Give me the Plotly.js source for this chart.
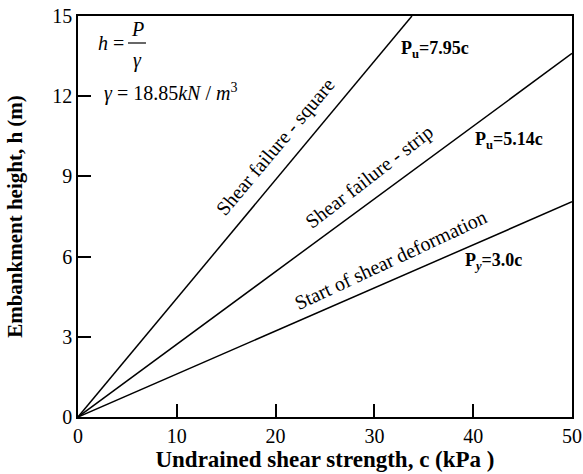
<!DOCTYPE html>
<html>
<head>
<meta charset="utf-8">
<script src="https://cdn.plot.ly/plotly-3.0.1.min.js"></script>
<style>html,body{margin:0;padding:0;background:#fff;}#chart{width:583px;height:474px;}</style>
</head>
<body>
<div id="chart"></div>
<script>
// Line end points (c in kPa, h in m)
const squareC = [0, 33.8];
const squareH = [0, 15];
const stripC = [0, 50];
const stripH = [0, 13.6];
const startC = [0, 50];
const startH = [0, 8.05];
const xTicks = [0, 10, 20, 30, 40, 50];
const yTicks = [0, 3, 6, 9, 12, 15];

const serif = 'Liberation Serif';
const lineStyle = {color: '#000', width: 1.5};

const traces = [
  {x: squareC, y: squareH, mode: 'lines', line: lineStyle, name: 'Shear failure - square', hoverinfo: 'skip'},
  {x: stripC, y: stripH, mode: 'lines', line: lineStyle, name: 'Shear failure - strip', hoverinfo: 'skip'},
  {x: startC, y: startH, mode: 'lines', line: lineStyle, name: 'Start of shear deformation', hoverinfo: 'skip'}
];

const ann = (text, x, y, opts) => Object.assign({
  text: text, x: x, y: y, xref: 'x', yref: 'y', showarrow: false,
  font: {family: serif, size: 20, color: 'black'}
}, opts || {});
const boldFont = {family: serif, size: 18, color: 'black'};

const layout = {
  width: 583, height: 474,
  margin: {l: 78, r: 11, t: 16, b: 57},
  paper_bgcolor: '#fff', plot_bgcolor: '#fff',
  showlegend: false,
  xaxis: {
    range: [0, 50], tickvals: xTicks, ticks: 'inside', ticklen: 13, tickwidth: 1.5, tickcolor: '#000',
    showline: true, linecolor: '#000', linewidth: 1.6, mirror: true, showgrid: false, zeroline: false,
    tickfont: {family: serif, size: 20, color: 'black'},
    title: {text: '<b>Undrained shear strength, c (kPa )</b>', font: {family: serif, size: 23, color: 'black'}, standoff: 2}
  },
  yaxis: {
    range: [0, 15], tickvals: yTicks, ticks: 'inside', ticklen: 13, tickwidth: 1.5, tickcolor: '#000',
    showline: true, linecolor: '#000', linewidth: 1.6, mirror: true, showgrid: false, zeroline: false,
    tickfont: {family: serif, size: 20, color: 'black'},
    title: {text: '<b>Embankment height, h (m)</b>', font: {family: serif, size: 21, color: 'black'}, standoff: 24}
  },
  shapes: [
    {type: 'line', xref: 'x', yref: 'y', x0: 5.06, x1: 6.88, y0: 13.99, y1: 13.99, line: {color: '#000', width: 1.2}}
  ],
  annotations: [
    ann('<i>h</i> =', 3.34, 13.99),
    ann('<i>P</i>', 6.07, 14.5),
    ann('<i>γ</i>', 6.07, 13.35),
    ann('<i>γ</i> = 18.85<i>kN</i> / <i>m</i><sup>3</sup>', 2.43, 12.12, {xanchor: 'left'}),
    ann('<b>P<sub>u</sub>=7.95c</b>', 32.49, 13.73, {xanchor: 'left', font: boldFont}),
    ann('<b>P<sub>u</sub>=5.14c</b>', 39.98, 10.36, {xanchor: 'left', font: boldFont}),
    ann('<b>P<sub><i>y</i></sub>=3.0c</b>', 38.97, 5.8, {xanchor: 'left', font: boldFont}),
    ann('Shear failure - square', 20.04, 10.1, {textangle: -50}),
    ann('Shear failure - strip', 29.55, 8.98, {textangle: -37.6}),
    ann('Start of shear deformation', 31.58, 5.87, {textangle: -25})
  ]
};

Plotly.newPlot('chart', traces, layout, {displayModeBar: false});
</script>
</body>
</html>
